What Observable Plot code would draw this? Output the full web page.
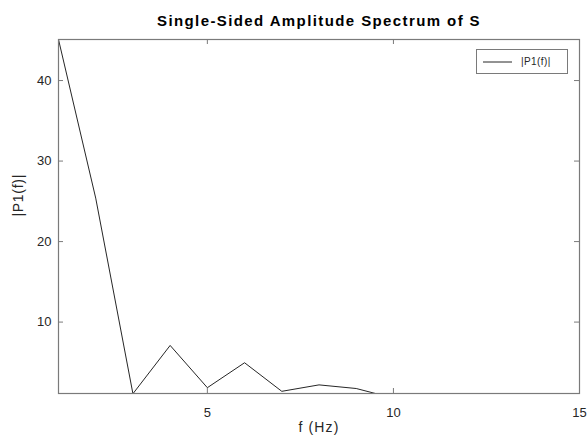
<!DOCTYPE html>
<html>
<head>
<meta charset="utf-8">
<script src="https://cdn.jsdelivr.net/npm/d3@7"></script>
<script src="https://cdn.jsdelivr.net/npm/@observablehq/plot@0.6"></script>
<style>
  html, body { margin: 0; padding: 0; background: #fff; }
  #wrap { position: relative; width: 588px; height: 441px; font-family: "Liberation Sans", Arial, sans-serif; }
  #legend { position: absolute; left: 476px; top: 49px; width: 92px; height: 25px; border: 1px solid #7a7a7a; background: #fff; box-sizing: border-box; display: flex; align-items: center; font-size: 10px; letter-spacing: 0.4px; color: #262626; }
  #legend svg { margin-left: 6px; margin-right: 9px; }
  .t-title { letter-spacing: 1.4px; }
  .t-lab { letter-spacing: 1.1px; }
  .t-ylab { letter-spacing: 0.7px; }
</style>
</head>
<body>
<div id="wrap"><div id="legend"><svg width="29" height="4"><line x1="0" x2="29" y1="2" y2="2" stroke="#262626" stroke-width="1"/></svg><span>|P1(f)|</span></div></div>
<script>
const freqs = [1, 2, 3, 4, 5, 6, 7, 8, 9, 10, 11, 12, 13, 14, 15];
const amplitude = [45.1, 25.4, 1.1, 7.1, 1.85, 4.95, 1.4, 2.2, 1.75, 0.55, 0.5, 0.45, 0.4, 0.35, 0.3];
const xTicks = [5, 10, 15];
const yTicks = [10, 20, 30, 40];
const title = "Single-Sided Amplitude Spectrum of S";
const xLabel = "f (Hz)";
const yLabel = "|P1(f)|";
const seriesName = "|P1(f)|";

const data = freqs.map((f, i) => ({f, a: amplitude[i]}));

const W = 588, H = 441, mL = 58, mR = 9, mT = 39, mB = 48;
const innerH = H - mT - mB, innerW = W - mL - mR, tk = 5;
const axisColor = "#7a7a7a", textColor = "#262626";

document.querySelector("#legend span").textContent = seriesName;

const chart = Plot.plot({
  width: W, height: H,
  marginLeft: mL, marginRight: mR, marginTop: mT, marginBottom: mB,
  style: {fontFamily: "'Liberation Sans', Arial, sans-serif", fontSize: "13px", color: textColor, background: "#fff"},
  x: {domain: [1, 15]},
  y: {domain: [1.13, 45.1]},
  marks: [
    Plot.line(data, {x: "f", y: "a", stroke: textColor, strokeWidth: 1, clip: true}),
    Plot.frame({stroke: axisColor, strokeWidth: 1.2}),
    Plot.tickX(xTicks, {x: d => d, stroke: axisColor, insetTop: innerH - tk}),
    Plot.tickX(xTicks, {x: d => d, stroke: axisColor, insetBottom: innerH - tk}),
    Plot.tickY(yTicks, {y: d => d, stroke: axisColor, insetRight: innerW - tk}),
    Plot.tickY(yTicks, {y: d => d, stroke: axisColor, insetLeft: innerW - tk}),
    Plot.axisX({ticks: xTicks, tickSize: 0, tickPadding: 14, label: null, fontSize: 13, fill: textColor}),
    Plot.axisY({ticks: yTicks, tickSize: 0, tickPadding: 7, label: null, fontSize: 13, fill: textColor}),
    Plot.text([xLabel], {frameAnchor: "bottom", dy: 38, fontSize: 14, fill: textColor, className: "t-lab"}),
    Plot.text([yLabel], {frameAnchor: "left", dx: -40, rotate: -90, fontSize: 14, fill: textColor, className: "t-ylab"}),
    Plot.text([title], {frameAnchor: "top", dy: -24, fontSize: 15, fontWeight: "bold", fill: "#000", className: "t-title"})
  ]
});
document.getElementById("wrap").prepend(chart);
chart.style.position = "absolute";
chart.style.left = "0";
chart.style.top = "0";
</script>
</body>
</html>
